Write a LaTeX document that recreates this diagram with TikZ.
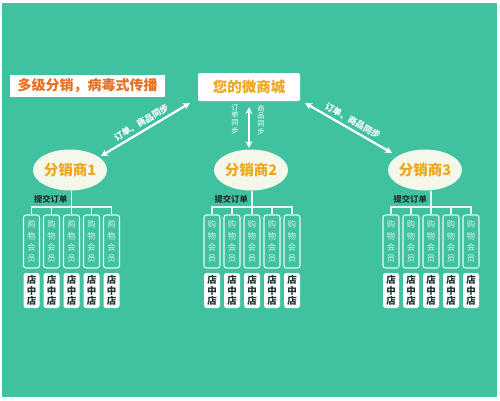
\documentclass[tikz,border=0pt]{standalone}
\usepackage{fontspec}
\newfontfamily\cjk{Noto Sans CJK SC}
\usetikzlibrary{arrows.meta,shapes.geometric}
\definecolor{bg}{RGB}{64,194,161}
\definecolor{titleor}{RGB}{232,110,30}
\definecolor{goldor}{RGB}{240,165,30}
\definecolor{ellfill}{RGB}{244,248,234}
\definecolor{lineW}{RGB}{232,248,242}
\definecolor{memtxt}{RGB}{214,242,232}
\definecolor{darktxt}{RGB}{30,50,45}
\begin{document}
\begin{tikzpicture}[x=1pt,y=-1pt,
  titlebox/.style={fill=white, inner sep=0pt, minimum width=155pt, minimum height=22pt,
    font=\cjk\bfseries\fontsize{14}{16}\selectfont, text=titleor},
  mallbox/.style={fill=white, rounded corners=2pt, inner sep=0pt, minimum width=102pt, minimum height=28pt,
    font=\cjk\bfseries\fontsize{14.5}{16}\selectfont, text=goldor},
  dealer/.style={ellipse, fill=ellfill, inner sep=0pt, minimum width=64pt, minimum height=41pt,
    font=\cjk\bfseries\fontsize{14.5}{16}\selectfont, text=goldor},
  member/.style={draw=lineW, line width=1.1pt, rounded corners=2.5pt, inner sep=0pt,
    minimum width=16pt, minimum height=53pt, align=center,
    font=\cjk\fontsize{8.3}{11.2}\selectfont, text=memtxt},
  store/.style={fill=white, rounded corners=2.5pt, inner sep=0pt,
    minimum width=16pt, minimum height=35pt, align=center,
    font=\cjk\bfseries\fontsize{9.5}{10.8}\selectfont, text=darktxt},
  ordertxt/.style={font=\cjk\bfseries\fontsize{8.3}{9}\selectfont, text=darktxt, inner sep=0pt},
  tree/.style={draw=lineW, line width=1.1pt},
  bigarrow/.style={draw=white, line width=2.2pt, {Stealth[length=7pt,width=7pt]}-{Stealth[length=7pt,width=7pt]}},
  arrowlab/.style={font=\cjk\bfseries\fontsize{8.8}{9}\selectfont, text=white, inner sep=1pt},
  vlab/.style={font=\cjk\fontsize{7.2}{7.6}\selectfont, text=white, align=center, inner sep=0pt}
]
\useasboundingbox (0,0) rectangle (500,400);
\fill[white] (0,0) rectangle (500,400);
\fill[bg] (2,3) rectangle (497,397);

\node[titlebox] (title) at (87.5,86) {多级分销，病毒式传播};
\node[mallbox] (mall) at (249,87) {您的微商城};

\foreach \g/\cx/\ex in {1/71.5/70, 2/252/251, 3/431/425} {
  \node[dealer] (e\g) at (\ex,170) {分销商\g};
  \coordinate (b\g) at (\cx,207);
  \foreach \i in {1,...,5} {
    \node[member] (m\g\i) at ({\cx+(\i-3)*20},241.5) {购\\物\\会\\员};
    \node[store] (s\g\i) at ({\cx+(\i-3)*20},290.5) {店\\中\\店};
  }
  \draw[tree] (e\g.south -| b\g) -- (b\g);
  \draw[tree] (m\g1.north) -- (m\g1.north |- b\g) -- (m\g5.north |- b\g) -- (m\g5.north);
  \foreach \i in {2,3,4} {\draw[tree] (m\g\i.north) -- (m\g\i.north |- b\g);}
  \node[ordertxt, anchor=east] (o\g) at (\cx-4,199) {提交订单};
}

\coordinate (l1) at (101,156);
\coordinate (l2) at (190,103);
\draw[bigarrow] (l1) -- node[sloped, above=2pt, arrowlab] (lt) {订单、商品同步} (l2);

\coordinate (r1) at (305,103);
\coordinate (r2) at (392,153);
\draw[bigarrow] (r1) -- node[sloped, above=2pt, arrowlab] (rt) {订单、商品同步} (r2);

\coordinate (c1) at (249,107);
\coordinate (c2) at (249,148);
\draw[bigarrow] (c1) -- (c2);
\node[vlab] (v1) at (235,119) {订\\单\\同\\步};
\node[vlab] (v2) at (261,120) {商\\品\\同\\步};
\end{tikzpicture}
\end{document}
